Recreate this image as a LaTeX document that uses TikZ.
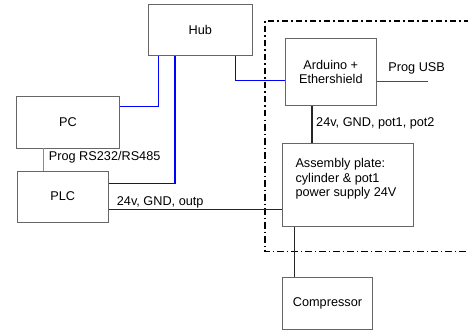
\documentclass[tikz,border=0pt]{standalone}
\usepackage{fontspec}
\setmainfont{Liberation Sans}
\begin{document}
\begin{tikzpicture}[x=1pt,y=-1pt,
  blk/.style={draw=black!60,line width=0.8pt,fill=white,inner sep=0pt,font=\fontsize{12.7}{14.3}\selectfont},
  eth/.style={draw=blue,line width=1.4pt},
  pwr/.style={draw=black!85,line width=1.5pt},
  thin/.style={draw=black!70,line width=0.7pt},
  lbl/.style={font=\fontsize{12.7}{14.3}\selectfont,inner sep=0pt}]
\useasboundingbox (0,0) rectangle (468,334);
% dash-dot boundary
\draw[black,line width=1.2pt,dash pattern=on 6.5pt off 3pt on 1.5pt off 3pt]
  (470,21) -- (265,21) -- (265,251.7) -- (470,251.7);
% boxes
\node[blk,minimum width=104pt,minimum height=51.4pt] (hub) at (200.3,30) {Hub};
\node[blk,minimum width=103.4pt,minimum height=51.7pt] (pc) at (68,122.2) {PC};
\node[blk,minimum width=91pt,minimum height=51.3pt] (plc) at (62.8,196.6) {PLC};
\node[blk,minimum width=91pt,minimum height=67pt,align=center] (ard) at (330.8,71.8) {Arduino +\\Ethershield};
\node[blk,minimum width=131pt,minimum height=82.6pt] (asm) at (347.8,185) {};
\node[lbl,align=left,anchor=north west] (asmt) at (295.3,158.3) {Assembly plate:\\cylinder \& pot1\\power supply 24V};
\node[blk,minimum width=90.4pt,minimum height=51.6pt] (comp) at (327.5,303.5) {Compressor};
% ethernet
\draw[eth] (hub.south -| 158.3,0) |- (pc.east |- 0,106.7);
\draw[eth] (hub.south -| 175,0) |- (plc.east |- 0,183.3);
\draw[eth] (hub.south -| 235.3,0) |- (ard.west |- 0,80.7);
% PC-PLC
\draw[draw=black!45,line width=1pt] (pc.south -| 43.7,0) -- (plc.north -| 43.7,0);
\node[lbl,anchor=west] (rs) at (48.7,157.7) {Prog RS232/RS485};
% PLC - assembly
\draw[pwr] (plc.east |- 0,209.3) -- (asm.west |- 0,209.3);
\node[lbl,anchor=west] (outp) at (116.7,202.3) {24v, GND, outp};
% Arduino - assembly
\draw[pwr] (ard.south -| 312,0) -- (asm.north -| 312,0);
\node[lbl,anchor=west] (pots) at (316,123.7) {24v, GND, pot1, pot2};
% Prog USB
\coordinate (usb) at (427.7,81);
\draw[thin] (ard.east |- usb) -- (usb);
\node[lbl] (usbt) at (416.7,68) {Prog USB};
% assembly - compressor
\draw[pwr] (asm.south -| 294.7,0) -- (comp.north -| 294.7,0);
\end{tikzpicture}
\end{document}
